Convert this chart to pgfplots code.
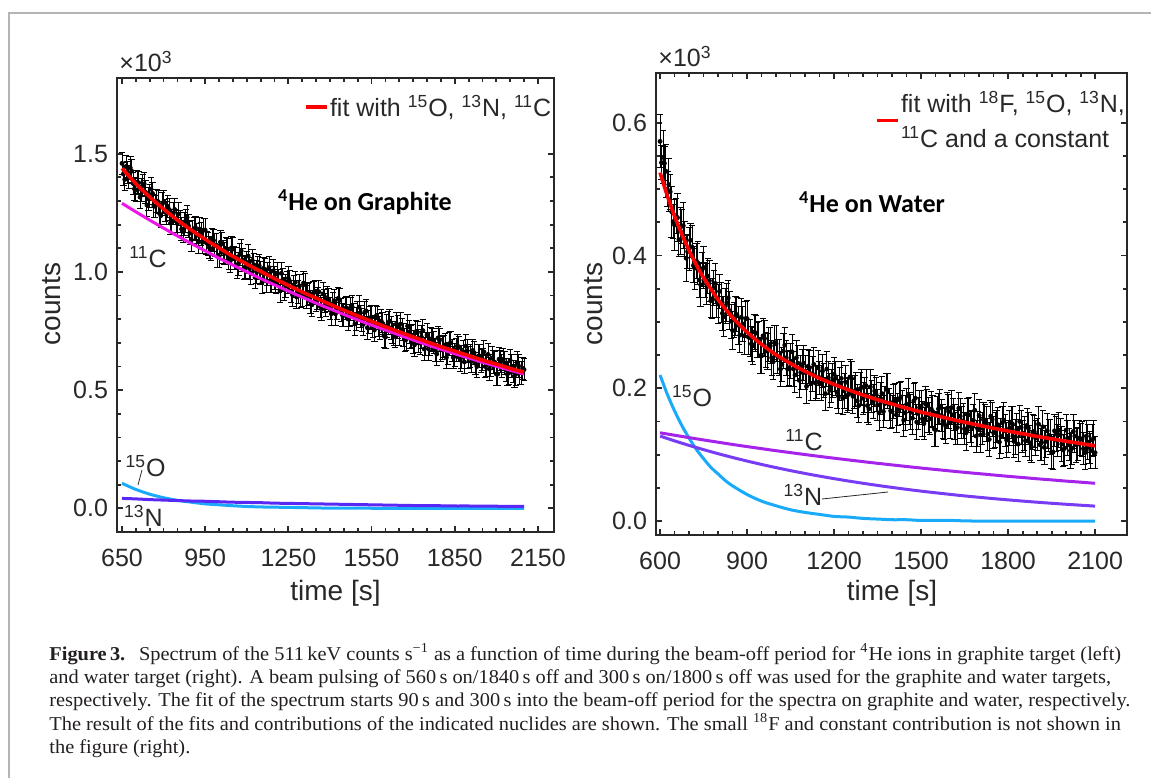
\documentclass[border=0pt]{standalone}
\usepackage{fontspec}
\setmainfont{Liberation Sans}
\newfontfamily\capfont[FakeStretch=1.04]{Liberation Serif}
\newfontfamily\calib{Carlito}
\usepackage{pgfplots}
\pgfplotsset{compat=1.18}
\definecolor{cred}{RGB}{255,0,0}
\definecolor{cmag}{RGB}{240,20,230}
\definecolor{cO}{RGB}{25,170,250}
\definecolor{cNl}{RGB}{90,40,245}
\definecolor{cN}{RGB}{120,60,245}
\definecolor{cC}{RGB}{165,35,235}
\definecolor{axc}{RGB}{40,40,40}
\definecolor{captc}{RGB}{35,31,32}
\definecolor{framec}{RGB}{180,180,180}
\pgfplotsset{
  mystyle/.style={
    scale only axis, tick align=inside,
    axis line style={line width=1.35pt, axc},
    every tick/.style={line width=0.9pt, axc},
    major tick length=3pt, minor tick length=1.8pt,
    ticklabel style={font=\fontsize{12.5}{14}\selectfont, text=axc},
    /pgf/number format/assume math mode=true,
    scaled x ticks=false, scaled y ticks=false,
    xticklabel style={/pgf/number format/1000 sep={}, yshift=-5pt},
    yticklabel style={/pgf/number format/fixed, /pgf/number format/fixed zerofill, /pgf/number format/precision=1, xshift=-1pt},
    legend style={draw=none, fill=none, inner sep=0pt, font=\fontsize{12.5}{17.5}\selectfont, text=axc, nodes={inner sep=0.5pt}, cells={align=left}},
    legend image code/.code={\draw[#1, line width=1.8pt] (0pt,0pt) -- (10.5pt,0pt);},
    clip=false, clip marker paths=true,
  },
  databar/.style={black, only marks, mark=*, mark size=1.0pt, forget plot,
    error bars/.cd, y dir=both, error mark options={rotate=90, mark size=1.6pt, line width=0.45pt, black},
    error bar style={line width=0.45pt, black}, /pgfplots/.cd},
}
\begin{document}
\begin{tikzpicture}
\path[use as bounding box] (0pt,0pt) rectangle (575.5pt,389pt);
\draw[framec, line width=0.7pt] (4.5pt,0pt) -- (4.5pt,382.5pt) -- (575.5pt,382.5pt);

% ---------------- left axis ----------------
\begin{axis}[mystyle, at={(58.5pt,123pt)}, anchor=south west,
  width=218.5pt, height=227pt,
  xmin=632, xmax=2208, ymin=-0.10, ymax=1.82,
  xtick={650,950,1250,1550,1850,2150}, minor x tick num=5,
  ytick={0,0.5,1,1.5}, minor y tick num=4,
  legend style={at={(0.428,0.936)}, anchor=west}]
\addplot[databar, error bars/y fixed=0.048] table {
650 1.459
660 1.391
670 1.420
680 1.440
690 1.374
700 1.346
710 1.377
720 1.348
730 1.372
740 1.283
750 1.321
760 1.332
770 1.277
780 1.297
790 1.238
800 1.295
810 1.249
820 1.264
830 1.214
840 1.264
850 1.204
860 1.213
870 1.171
880 1.216
890 1.194
900 1.136
910 1.182
920 1.155
930 1.181
940 1.125
950 1.177
960 1.119
970 1.097
980 1.133
990 1.113
1000 1.066
1010 1.118
1020 1.078
1030 1.094
1040 1.044
1050 1.097
1060 1.057
1070 1.035
1080 1.089
1090 1.017
1100 1.040
1110 1.014
1120 1.048
1130 0.977
1140 1.018
1150 0.997
1160 1.015
1170 0.962
1180 1.018
1190 0.962
1200 0.973
1210 0.991
1220 0.920
1230 0.967
1240 0.941
1250 0.973
1260 0.917
1270 0.938
1280 0.894
1290 0.941
1300 0.901
1310 0.947
1320 0.904
1330 0.874
1340 0.910
1350 0.879
1360 0.916
1370 0.842
1380 0.876
1390 0.891
1400 0.846
1410 0.866
1420 0.823
1430 0.888
1440 0.839
1450 0.816
1460 0.848
1470 0.816
1480 0.852
1490 0.780
1500 0.825
1510 0.811
1520 0.778
1530 0.835
1540 0.788
1550 0.809
1560 0.754
1570 0.806
1580 0.762
1590 0.782
1600 0.724
1610 0.785
1620 0.763
1630 0.736
1640 0.780
1650 0.735
1660 0.756
1670 0.712
1680 0.771
1690 0.726
1700 0.705
1710 0.747
1720 0.708
1730 0.724
1740 0.674
1750 0.733
1760 0.694
1770 0.713
1780 0.669
1790 0.721
1800 0.670
1810 0.685
1820 0.638
1830 0.694
1840 0.668
1850 0.649
1860 0.688
1870 0.628
1880 0.663
1890 0.686
1900 0.638
1910 0.621
1920 0.658
1930 0.600
1940 0.644
1950 0.630
1960 0.600
1970 0.651
1980 0.605
1990 0.620
2000 0.568
2010 0.631
2020 0.601
2030 0.615
2040 0.568
2050 0.626
2060 0.579
2070 0.568
2080 0.602
2090 0.574
2100 0.587
};
\addplot[databar, error bars/y fixed=0.048] table {
655 1.414
665 1.446
675 1.401
685 1.426
695 1.351
705 1.380
715 1.316
725 1.365
735 1.337
745 1.309
755 1.350
765 1.279
775 1.300
785 1.248
795 1.287
805 1.260
815 1.277
825 1.206
835 1.247
845 1.215
855 1.245
865 1.181
875 1.204
885 1.231
895 1.164
905 1.169
915 1.187
925 1.126
935 1.160
945 1.177
955 1.122
965 1.103
975 1.137
985 1.114
995 1.066
1005 1.126
1015 1.084
1025 1.099
1035 1.057
1045 1.102
1055 1.060
1065 1.021
1075 1.074
1085 1.051
1095 1.021
1105 1.067
1115 0.996
1125 1.031
1135 1.001
1145 1.026
1155 0.956
1165 1.010
1175 0.991
1185 0.960
1195 1.004
1205 0.956
1215 0.961
1225 0.994
1235 0.927
1245 0.956
1255 0.960
1265 0.903
1275 0.956
1285 0.916
1295 0.899
1305 0.953
1315 0.893
1325 0.909
1335 0.861
1345 0.915
1355 0.888
1365 0.854
1375 0.907
1385 0.860
1395 0.880
1405 0.823
1415 0.878
1425 0.845
1435 0.880
1445 0.818
1455 0.845
1465 0.801
1475 0.844
1485 0.820
1495 0.802
1505 0.851
1515 0.798
1525 0.829
1535 0.764
1545 0.805
1555 0.769
1565 0.812
1575 0.776
1585 0.792
1595 0.730
1605 0.772
1615 0.792
1625 0.744
1635 0.727
1645 0.768
1655 0.779
1665 0.732
1675 0.714
1685 0.746
1695 0.730
1705 0.692
1715 0.743
1725 0.699
1735 0.752
1745 0.695
1755 0.675
1765 0.717
1775 0.701
1785 0.653
1795 0.711
1805 0.677
1815 0.691
1825 0.655
1835 0.701
1845 0.638
1855 0.671
1865 0.681
1875 0.641
1885 0.619
1895 0.666
1905 0.644
1915 0.668
1925 0.613
1935 0.644
1945 0.623
1955 0.662
1965 0.605
1975 0.589
1985 0.636
1995 0.617
2005 0.568
2015 0.621
2025 0.630
2035 0.586
2045 0.573
2055 0.601
2065 0.560
2075 0.617
2085 0.574
2095 0.592
};
\addplot[cmag, line width=1.5pt, smooth, forget plot] coordinates {(650,1.290)(700,1.254)(750,1.219)(800,1.185)(850,1.152)(900,1.120)(950,1.089)(1000,1.058)(1050,1.029)(1100,1.000)(1150,0.972)(1200,0.945)(1250,0.919)(1300,0.893)(1350,0.868)(1400,0.844)(1450,0.820)(1500,0.797)(1550,0.775)(1600,0.754)(1650,0.733)(1700,0.712)(1750,0.692)(1800,0.673)(1850,0.654)(1900,0.636)(1950,0.618)(2000,0.601)(2050,0.584)(2100,0.568)};
\addplot[cO, line width=1.5pt, smooth, forget plot] coordinates {(650,0.106)(700,0.080)(750,0.060)(800,0.045)(850,0.034)(900,0.026)(950,0.019)(1000,0.015)(1050,0.011)(1100,0.008)(1150,0.006)(1200,0.005)(1300,0.003)(1400,0.001)(1500,0.001)(1600,0.000)(1800,0.000)(2100,0.000)};
\addplot[cNl, line width=1.5pt, smooth, forget plot] coordinates {(650,0.042)(700,0.040)(750,0.037)(800,0.035)(850,0.033)(900,0.031)(950,0.030)(1000,0.028)(1050,0.026)(1100,0.025)(1150,0.024)(1200,0.022)(1250,0.021)(1300,0.020)(1350,0.019)(1400,0.018)(1450,0.017)(1500,0.016)(1550,0.015)(1600,0.014)(1650,0.013)(1700,0.012)(1750,0.012)(1800,0.011)(1850,0.010)(1900,0.010)(1950,0.009)(2000,0.009)(2050,0.008)(2100,0.008)};
\addplot[cred, line width=1.8pt, smooth] coordinates {(650,1.438)(700,1.373)(750,1.317)(800,1.266)(850,1.219)(900,1.177)(950,1.138)(1000,1.101)(1050,1.066)(1100,1.033)(1150,1.002)(1200,0.972)(1250,0.943)(1300,0.915)(1350,0.889)(1400,0.863)(1450,0.838)(1500,0.814)(1550,0.791)(1600,0.768)(1650,0.746)(1700,0.725)(1750,0.704)(1800,0.684)(1850,0.665)(1900,0.646)(1950,0.627)(2000,0.610)(2050,0.592)(2100,0.576)};
\addlegendentry{fit with \textsuperscript{15}O, \textsuperscript{13}N, \textsuperscript{11}C}
\end{axis}

% ---------------- right axis ----------------
\begin{axis}[mystyle, at={(328pt,121.5pt)}, anchor=south west,
  width=235.5pt, height=231pt,
  xmin=586, xmax=2210, ymin=-0.021, ymax=0.675,
  xtick={600,900,1200,1500,1800,2100}, minor x tick num=5,
  ytick={0,0.2,0.4,0.6}, minor y tick num=3,
  legend style={at={(0.465,0.897)}, anchor=west}]
\addplot[databar, error bars/y explicit] table[x index=0, y index=1, y error index=2] {
600 0.572 0.040
610 0.548 0.040
620 0.527 0.040
630 0.507 0.040
640 0.466 0.038
650 0.446 0.038
660 0.457 0.036
670 0.437 0.036
680 0.445 0.035
690 0.396 0.035
700 0.410 0.032
710 0.413 0.032
720 0.381 0.032
730 0.389 0.032
740 0.356 0.032
750 0.382 0.031
760 0.357 0.031
770 0.362 0.031
780 0.335 0.030
790 0.358 0.030
800 0.327 0.030
810 0.329 0.030
820 0.308 0.030
830 0.329 0.029
840 0.317 0.029
850 0.287 0.029
860 0.309 0.029
870 0.295 0.029
880 0.307 0.028
890 0.279 0.028
900 0.305 0.028
910 0.276 0.028
920 0.264 0.028
930 0.283 0.027
940 0.273 0.027
950 0.249 0.027
960 0.275 0.027
970 0.256 0.027
980 0.264 0.027
990 0.240 0.027
1000 0.267 0.027
1010 0.247 0.027
1020 0.236 0.026
1030 0.265 0.026
1040 0.229 0.026
1050 0.241 0.026
1060 0.229 0.026
1070 0.246 0.026
1080 0.212 0.026
1090 0.233 0.026
1100 0.224 0.026
1110 0.233 0.026
1120 0.207 0.026
1130 0.236 0.025
1140 0.209 0.025
1150 0.216 0.025
1160 0.226 0.025
1170 0.192 0.025
1180 0.216 0.025
1190 0.204 0.025
1200 0.221 0.025
1210 0.194 0.025
1220 0.206 0.025
1230 0.185 0.025
1240 0.209 0.025
1250 0.191 0.025
1260 0.215 0.025
1270 0.195 0.025
1280 0.181 0.025
1290 0.199 0.025
1300 0.185 0.024
1310 0.204 0.024
1320 0.169 0.024
1330 0.188 0.024
1340 0.196 0.024
1350 0.175 0.024
1360 0.185 0.024
1370 0.165 0.024
1380 0.199 0.024
1390 0.176 0.024
1400 0.165 0.024
1410 0.183 0.024
1420 0.168 0.024
1430 0.187 0.024
1440 0.152 0.024
1450 0.176 0.024
1460 0.170 0.024
1470 0.155 0.024
1480 0.185 0.024
1490 0.162 0.024
1500 0.173 0.024
1510 0.147 0.024
1520 0.174 0.024
1530 0.154 0.024
1540 0.165 0.024
1550 0.137 0.024
1560 0.169 0.024
1570 0.159 0.024
1580 0.147 0.024
1590 0.170 0.024
1600 0.149 0.024
1610 0.160 0.024
1620 0.139 0.024
1630 0.170 0.024
1640 0.149 0.024
1650 0.139 0.024
1660 0.161 0.024
1670 0.143 0.024
1680 0.152 0.024
1690 0.128 0.024
1700 0.159 0.024
1710 0.140 0.024
1720 0.152 0.024
1730 0.131 0.024
1740 0.158 0.024
1750 0.133 0.024
1760 0.142 0.024
1770 0.119 0.024
1780 0.148 0.024
1790 0.136 0.024
1800 0.128 0.024
1810 0.149 0.024
1820 0.120 0.024
1830 0.138 0.024
1840 0.150 0.024
1850 0.128 0.024
1860 0.121 0.024
1870 0.140 0.024
1880 0.112 0.024
1890 0.135 0.024
1900 0.130 0.024
1910 0.115 0.024
1920 0.142 0.024
1930 0.120 0.024
1940 0.129 0.024
1950 0.103 0.024
1960 0.136 0.024
1970 0.121 0.024
1980 0.130 0.024
1990 0.107 0.024
2000 0.137 0.024
2010 0.115 0.024
2020 0.110 0.024
2030 0.128 0.024
2040 0.116 0.024
2050 0.123 0.024
2060 0.109 0.024
2070 0.128 0.024
2080 0.111 0.024
2090 0.122 0.024
2100 0.103 0.024
};
\addplot[databar, error bars/y fixed=0.026] table {
605 0.540
615 0.539
625 0.500
635 0.496
645 0.451
655 0.460
665 0.424
675 0.444
685 0.425
695 0.406
705 0.423
715 0.385
725 0.392
735 0.363
745 0.379
755 0.363
765 0.369
775 0.332
785 0.351
795 0.333
805 0.346
815 0.313
825 0.324
835 0.336
845 0.301
855 0.303
865 0.311
875 0.280
885 0.297
895 0.305
905 0.277
915 0.267
925 0.285
935 0.273
945 0.249
955 0.279
965 0.258
975 0.266
985 0.246
995 0.269
1005 0.248
1015 0.229
1025 0.256
1035 0.246
1045 0.231
1055 0.255
1065 0.220
1075 0.238
1085 0.224
1095 0.238
1105 0.203
1115 0.231
1125 0.222
1135 0.208
1145 0.231
1155 0.208
1165 0.212
1175 0.229
1185 0.197
1195 0.212
1205 0.215
1215 0.188
1225 0.215
1235 0.196
1245 0.189
1255 0.217
1265 0.188
1275 0.198
1285 0.174
1295 0.202
1305 0.190
1315 0.174
1325 0.202
1335 0.180
1345 0.191
1355 0.163
1365 0.192
1375 0.177
1385 0.196
1395 0.166
1405 0.180
1415 0.160
1425 0.183
1435 0.171
1445 0.163
1455 0.189
1465 0.164
1475 0.181
1485 0.149
1495 0.171
1505 0.154
1515 0.177
1525 0.160
1535 0.169
1545 0.139
1555 0.162
1565 0.173
1575 0.150
1585 0.143
1595 0.165
1605 0.171
1615 0.149
1625 0.141
1635 0.158
1645 0.151
1655 0.133
1665 0.160
1675 0.139
1685 0.167
1695 0.139
1705 0.130
1715 0.153
1725 0.146
1735 0.123
1745 0.153
1755 0.137
1765 0.145
1775 0.128
1785 0.152
1795 0.122
1805 0.140
1815 0.146
1825 0.127
1835 0.116
1845 0.141
1855 0.132
1865 0.144
1875 0.118
1885 0.134
1895 0.125
1905 0.146
1915 0.118
1925 0.111
1935 0.136
1945 0.127
1955 0.104
1965 0.131
1975 0.137
1985 0.116
1995 0.110
2005 0.125
2015 0.106
2025 0.135
2035 0.115
2045 0.125
2055 0.124
2065 0.103
2075 0.119
2085 0.106
2095 0.125
};
\addplot[cO, line width=1.5pt, smooth, forget plot] coordinates {(600,0.220)(625,0.191)(650,0.166)(675,0.144)(700,0.125)(725,0.108)(750,0.094)(775,0.081)(800,0.071)(825,0.061)(850,0.053)(900,0.040)(950,0.030)(1000,0.023)(1050,0.017)(1100,0.013)(1150,0.010)(1200,0.007)(1250,0.006)(1300,0.004)(1350,0.003)(1400,0.002)(1450,0.002)(1500,0.001)(1600,0.001)(1700,0.000)(2100,0.000)};
\addplot[cC, line width=1.5pt, smooth, forget plot] coordinates {(600,0.1330)(650,0.1293)(700,0.1257)(750,0.1222)(800,0.1188)(850,0.1154)(900,0.1122)(950,0.1091)(1000,0.1060)(1050,0.1031)(1100,0.1002)(1150,0.0974)(1200,0.0947)(1250,0.0921)(1300,0.0895)(1350,0.0870)(1400,0.0846)(1450,0.0822)(1500,0.0799)(1550,0.0777)(1600,0.0755)(1650,0.0734)(1700,0.0714)(1750,0.0694)(1800,0.0674)(1850,0.0656)(1900,0.0637)(1950,0.0620)(2000,0.0602)(2050,0.0586)(2100,0.0569)};
\addplot[cN, line width=1.5pt, smooth, forget plot] coordinates {(600,0.1280)(650,0.1208)(700,0.1140)(750,0.1076)(800,0.1015)(850,0.0958)(900,0.0904)(950,0.0853)(1000,0.0805)(1050,0.0760)(1100,0.0717)(1150,0.0677)(1200,0.0639)(1250,0.0603)(1300,0.0569)(1350,0.0537)(1400,0.0507)(1450,0.0478)(1500,0.0451)(1550,0.0426)(1600,0.0402)(1650,0.0379)(1700,0.0358)(1750,0.0338)(1800,0.0319)(1850,0.0301)(1900,0.0284)(1950,0.0268)(2000,0.0253)(2050,0.0239)(2100,0.0225)};
\addplot[cred, line width=1.8pt, smooth] coordinates {(600,0.5250)(625,0.4901)(650,0.4594)(675,0.4320)(700,0.4077)(725,0.3860)(750,0.3667)(800,0.3337)(850,0.3067)(900,0.2846)(950,0.2662)(1000,0.2505)(1050,0.2372)(1100,0.2255)(1150,0.2151)(1200,0.2059)(1250,0.1976)(1300,0.1898)(1350,0.1828)(1400,0.1763)(1450,0.1701)(1500,0.1643)(1550,0.1590)(1600,0.1538)(1650,0.1489)(1700,0.1443)(1750,0.1398)(1800,0.1355)(1850,0.1316)(1900,0.1275)(1950,0.1239)(2000,0.1202)(2050,0.1168)(2100,0.1134)};
\addlegendentry{fit with \textsuperscript{18}F, \textsuperscript{15}O, \textsuperscript{13}N,\\\textsuperscript{11}C and a constant}
\end{axis}

% ---------------- texts ----------------
\begin{scope}[every node/.style={text=axc, inner sep=0pt}]
\node[anchor=base west, font=\fontsize{12.5}{14}\selectfont] at (59.5pt,353pt) {×10\textsuperscript{3}};
\node[anchor=base west, font=\fontsize{12.5}{14}\selectfont] at (329pt,355.5pt) {×10\textsuperscript{3}};
\node[font=\fontsize{14}{16}\selectfont] at (167.75pt,92.5pt) {time [s]};
\node[font=\fontsize{14}{16}\selectfont] at (446pt,92.5pt) {time [s]};
\node[font=\fontsize{14}{16}\selectfont, rotate=90] at (26pt,237pt) {counts};
\node[font=\fontsize{14}{16}\selectfont, rotate=90] at (297pt,237pt) {counts};
\node[font=\calib\bfseries\fontsize{13}{15}\selectfont, text=black] at (182.5pt,288pt) {\textsuperscript{4}He on Graphite};
\node[font=\calib\bfseries\fontsize{13}{15}\selectfont, text=black] at (436pt,288pt) {\textsuperscript{4}He on Water};
\node[font=\fontsize{12.5}{14}\selectfont] at (74pt,260.5pt) {\textsuperscript{11}C};
\node[font=\fontsize{12.5}{14}\selectfont] at (72.75pt,156pt) {\textsuperscript{15}O};
\node[font=\fontsize{12.5}{14}\selectfont] at (71.75pt,131pt) {\textsuperscript{13}N};
\draw[axc, line width=0.4pt] (71pt,154pt) -- (69pt,146.5pt);
\node[font=\fontsize{12.5}{14}\selectfont] at (346pt,191pt) {\textsuperscript{15}O};
\node[font=\fontsize{12.5}{14}\selectfont] at (402pt,169pt) {\textsuperscript{11}C};
\node[font=\fontsize{12.5}{14}\selectfont] at (401.5pt,141.5pt) {\textsuperscript{13}N};
\draw[axc, line width=0.4pt] (411pt,139.5pt) -- (444pt,143pt);
\end{scope}

% ---------------- caption ----------------
\begin{scope}[every node/.style={anchor=base west, inner sep=0pt, text=captc, font=\capfont\fontsize{9.8}{11}\selectfont}]
\node at (24.5pt,59pt) {\textbf{Figure\,3.}\hspace{0.7em}Spectrum of the 511\,keV counts s\textsuperscript{−1} as a function of time during the beam-off period for \textsuperscript{4}He ions in graphite target (left)};
\node at (24.5pt,47.35pt) {and water target (right). A beam pulsing of 560\,s on/1840\,s off and 300\,s on/1800\,s off was used for the graphite and water targets,};
\node at (24.5pt,35.7pt) {respectively. The fit of the spectrum starts 90\,s and 300\,s into the beam-off period for the spectra on graphite and water, respectively.};
\node at (24.5pt,24pt) {The result of the fits and contributions of the indicated nuclides are shown. The small \textsuperscript{18}F and constant contribution is not shown in};
\node at (24.5pt,12.5pt) {the figure (right).};
\end{scope}
\end{tikzpicture}
\end{document}
